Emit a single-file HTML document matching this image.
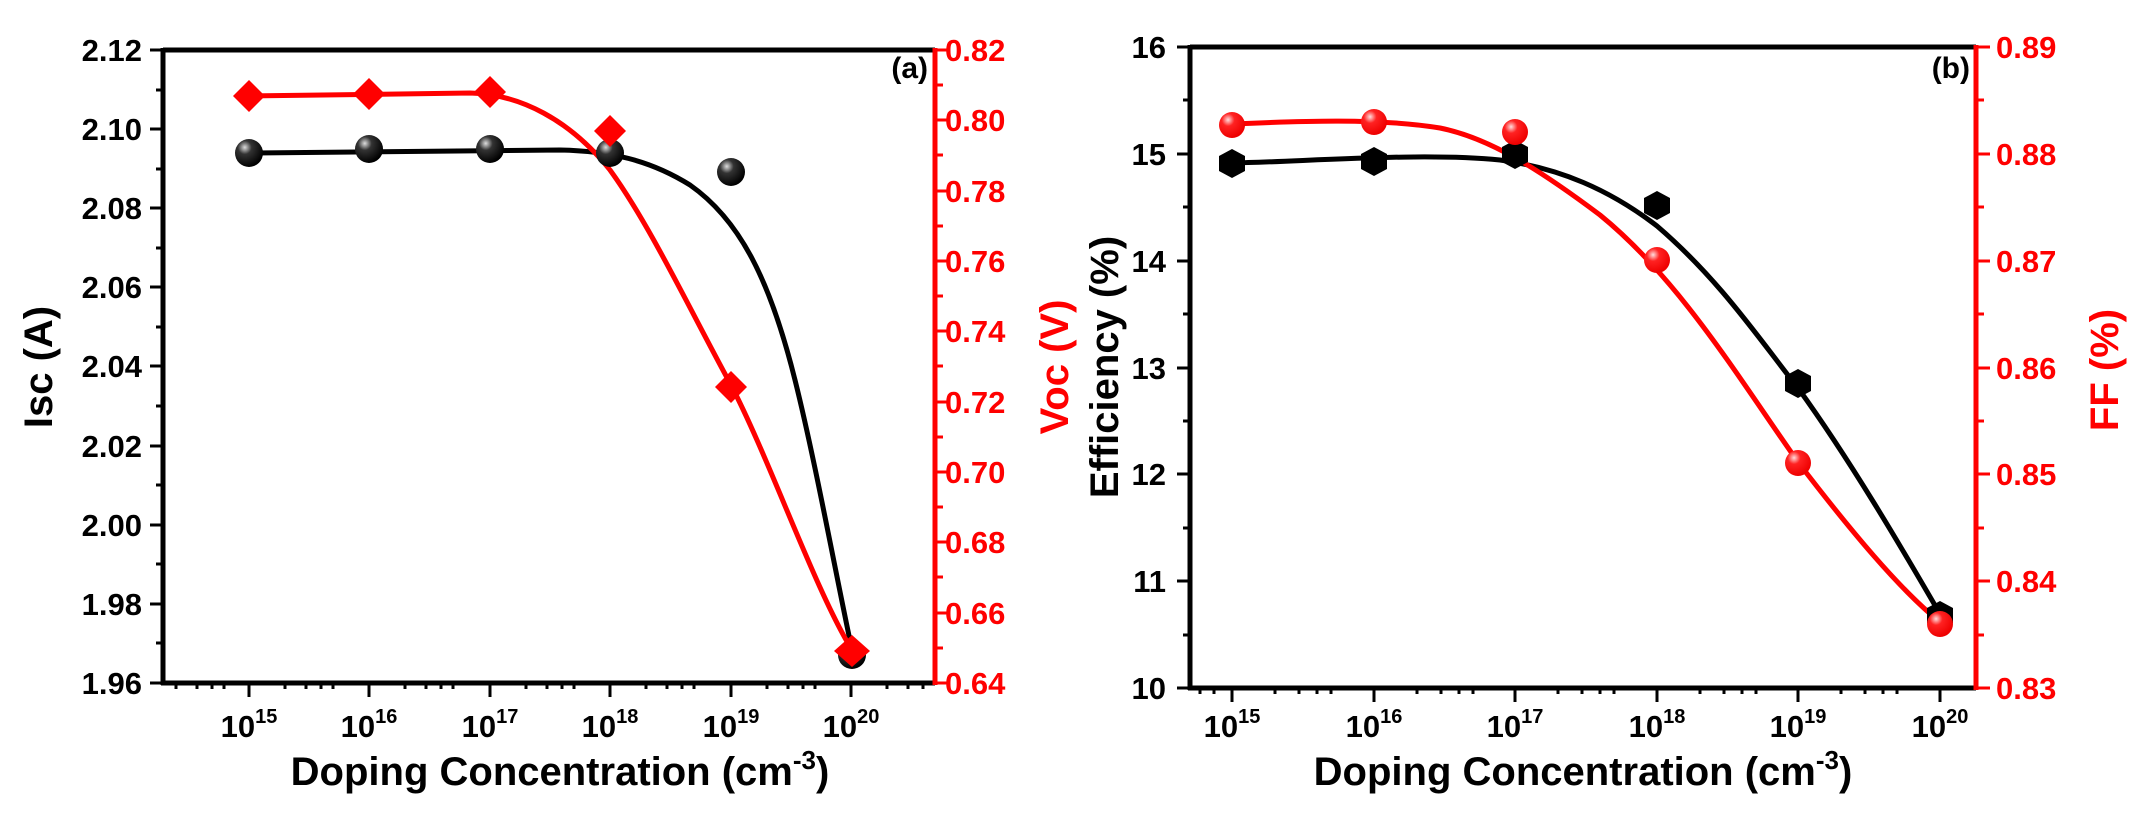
<!DOCTYPE html>
<html><head><meta charset="utf-8"><style>body{margin:0;background:#fff}svg{display:block}text{font-family:"Liberation Sans",sans-serif;font-weight:bold}</style></head><body>
<svg width="2154" height="822" viewBox="0 0 2154 822" xmlns="http://www.w3.org/2000/svg">
<defs>
<radialGradient id="gb" cx="0.35" cy="0.3" r="0.7"><stop offset="0" stop-color="#ddd"/><stop offset="0.35" stop-color="#333"/><stop offset="1" stop-color="#000"/></radialGradient>
<radialGradient id="gr" cx="0.35" cy="0.3" r="0.7"><stop offset="0" stop-color="#fdd"/><stop offset="0.35" stop-color="#f22"/><stop offset="1" stop-color="#e00"/></radialGradient>
</defs>
<!-- Panel A -->
<g stroke="#000" stroke-width="3">
<line x1="150" y1="50" x2="163" y2="50"/><line x1="150" y1="129" x2="163" y2="129"/><line x1="150" y1="208" x2="163" y2="208"/><line x1="150" y1="287" x2="163" y2="287"/><line x1="150" y1="366" x2="163" y2="366"/><line x1="150" y1="446" x2="163" y2="446"/><line x1="150" y1="525" x2="163" y2="525"/><line x1="150" y1="604" x2="163" y2="604"/><line x1="150" y1="683" x2="163" y2="683"/>
<line x1="156" y1="90" x2="163" y2="90"/><line x1="156" y1="169" x2="163" y2="169"/><line x1="156" y1="248" x2="163" y2="248"/><line x1="156" y1="327" x2="163" y2="327"/><line x1="156" y1="406" x2="163" y2="406"/><line x1="156" y1="485" x2="163" y2="485"/><line x1="156" y1="564" x2="163" y2="564"/><line x1="156" y1="643" x2="163" y2="643"/>
<line x1="249" y1="683" x2="249" y2="697"/><line x1="369" y1="683" x2="369" y2="697"/><line x1="490" y1="683" x2="490" y2="697"/><line x1="610" y1="683" x2="610" y2="697"/><line x1="731" y1="683" x2="731" y2="697"/><line x1="851" y1="683" x2="851" y2="697"/>
</g>
<g stroke="#000" stroke-width="3">
<path d="M176,683v6M197,683v6M212,683v6M224,683v6M285,683v6M306,683v6M321,683v6M333,683v6M405,683v6M426,683v6M441,683v6M453,683v6M526,683v6M547,683v6M562,683v6M574,683v6M646,683v6M667,683v6M682,683v6M694,683v6M767,683v6M788,683v6M803,683v6M815,683v6M887,683v6M908,683v6M923,683v6"/>
</g>
<g stroke="#f00" stroke-width="3">
<path d="M935,50h14M935,120h14M935,191h14M935,261h14M935,331h14M935,402h14M935,472h14M935,542h14M935,613h14M935,683h14"/>
<path d="M935,85h8M935,155h8M935,226h8M935,296h8M935,366h8M935,437h8M935,507h8M935,577h8M935,648h8"/>
</g>
<line x1="163" y1="50" x2="935" y2="50" stroke="#000" stroke-width="5"/>
<line x1="163" y1="48" x2="163" y2="685" stroke="#000" stroke-width="5"/>
<line x1="161" y1="683" x2="935" y2="683" stroke="#000" stroke-width="5"/>
<line x1="935" y1="48" x2="935" y2="685" stroke="#f00" stroke-width="5"/>
<path d="M249,153 L560,150 C610,151 650,160 690,185 C740,220 770,280 795,380 C815,460 835,570 852,650" fill="none" stroke="#000" stroke-width="5"/>
<path d="M249,96 L470,93 C520,94 570,120 610,170 C650,225 690,310 731,385 C770,460 815,590 852,650" fill="none" stroke="#f00" stroke-width="5"/>
<g fill="url(#gb)"><circle cx="249" cy="153" r="14"/><circle cx="369" cy="149" r="14"/><circle cx="490" cy="149" r="14"/><circle cx="610" cy="153" r="14"/><circle cx="731" cy="172" r="14"/><circle cx="852" cy="655" r="14"/></g>
<g fill="#f00"><path d="M249,80l16,16l-16,16l-16,-16z"/><path d="M369,78l16,16l-16,16l-16,-16z"/><path d="M490,76l16,16l-16,16l-16,-16z"/><path d="M610,115l16,16l-16,16l-16,-16z"/><path d="M731,371l16,16l-16,16l-16,-16z"/><path d="M852,635l18,16l-18,16l-18,-16z"/></g>
<g font-size="31" text-anchor="end" fill="#000">
<text x="142" y="61">2.12</text><text x="142" y="140">2.10</text><text x="142" y="219">2.08</text><text x="142" y="298">2.06</text><text x="142" y="377">2.04</text><text x="142" y="457">2.02</text><text x="142" y="536">2.00</text><text x="142" y="615">1.98</text><text x="142" y="694">1.96</text>
</g>
<g font-size="31" fill="#f00">
<text x="945" y="61">0.82</text><text x="945" y="131">0.80</text><text x="945" y="202">0.78</text><text x="945" y="272">0.76</text><text x="945" y="342">0.74</text><text x="945" y="413">0.72</text><text x="945" y="483">0.70</text><text x="945" y="553">0.68</text><text x="945" y="624">0.66</text><text x="945" y="694">0.64</text>
</g>
<g font-size="31" text-anchor="middle" fill="#000">
<text x="249" y="737">10<tspan font-size="20" dy="-14">15</tspan></text><text x="369" y="737">10<tspan font-size="20" dy="-14">16</tspan></text><text x="490" y="737">10<tspan font-size="20" dy="-14">17</tspan></text><text x="610" y="737">10<tspan font-size="20" dy="-14">18</tspan></text><text x="731" y="737">10<tspan font-size="20" dy="-14">19</tspan></text><text x="851" y="737">10<tspan font-size="20" dy="-14">20</tspan></text>
</g>
<text x="560" y="785" font-size="40" text-anchor="middle">Doping Concentration (cm<tspan font-size="26" dy="-16">-3</tspan><tspan dy="16">)</tspan></text>
<text transform="translate(52,367) rotate(-90)" font-size="40" text-anchor="middle">Isc (A)</text>
<text transform="translate(1068,367) rotate(-90)" font-size="40" text-anchor="middle" fill="#f00">Voc (V)</text>
<text x="928" y="78" font-size="30" text-anchor="end">(a)</text>
<!-- Panel B -->
<g stroke="#000" stroke-width="3">
<path d="M1177,47h13M1177,154h13M1177,261h13M1177,368h13M1177,474h13M1177,581h13M1177,688h13"/>
<path d="M1183,100h7M1183,207h7M1183,314h7M1183,421h7M1183,528h7M1183,635h7"/>
<path d="M1232,688v14M1374,688v14M1515,688v14M1657,688v14M1798,688v14M1940,688v14"/>
<path d="M1200,688v6M1214,688v6M1275,688v6M1299,688v6M1317,688v6M1331,688v6M1417,688v6M1441,688v6M1459,688v6M1473,688v6M1558,688v6M1582,688v6M1600,688v6M1614,688v6M1700,688v6M1724,688v6M1742,688v6M1756,688v6M1841,688v6M1865,688v6M1883,688v6M1897,688v6"/>
</g>
<g stroke="#f00" stroke-width="3">
<path d="M1976,47h14M1976,154h14M1976,261h14M1976,368h14M1976,474h14M1976,581h14M1976,688h14"/>
<path d="M1976,100h8M1976,207h8M1976,314h8M1976,421h8M1976,528h8M1976,635h8"/>
</g>
<line x1="1190" y1="47" x2="1976" y2="47" stroke="#000" stroke-width="5"/>
<line x1="1190" y1="45" x2="1190" y2="690" stroke="#000" stroke-width="5"/>
<line x1="1188" y1="688" x2="1976" y2="688" stroke="#000" stroke-width="5"/>
<line x1="1976" y1="45" x2="1976" y2="690" stroke="#f00" stroke-width="5"/>
<path d="M1232,163 C1300,162 1420,152 1500,160 C1560,168 1610,190 1657,226 C1720,280 1760,340 1798,388 C1850,460 1900,545 1940,614" fill="none" stroke="#000" stroke-width="5"/>
<path d="M1232,124 C1300,121 1380,118 1440,128 C1490,138 1540,170 1600,215 C1680,280 1740,380 1798,462 C1850,530 1900,590 1940,622" fill="none" stroke="#f00" stroke-width="5"/>
<g fill="#000"><path d="M1232,149l13,7v15l-13,7l-13,-7v-15z"/><path d="M1374,147l13,7v15l-13,7l-13,-7v-15z"/><path d="M1515,140l13,7v15l-13,7l-13,-7v-15z"/><path d="M1657,191l13,7v15l-13,7l-13,-7v-15z"/><path d="M1798,369l13,7v15l-13,7l-13,-7v-15z"/><path d="M1940,601l13,7v15l-13,7l-13,-7v-15z"/></g>
<g fill="url(#gr)"><circle cx="1232" cy="125" r="13"/><circle cx="1374" cy="122" r="13"/><circle cx="1515" cy="132" r="13"/><circle cx="1657" cy="260" r="13"/><circle cx="1798" cy="463" r="13"/><circle cx="1940" cy="624" r="13"/></g>
<g font-size="31" text-anchor="end" fill="#000">
<text x="1166" y="58">16</text><text x="1166" y="165">15</text><text x="1166" y="272">14</text><text x="1166" y="379">13</text><text x="1166" y="485">12</text><text x="1166" y="592">11</text><text x="1166" y="699">10</text>
</g>
<g font-size="31" fill="#f00">
<text x="1996" y="58">0.89</text><text x="1996" y="165">0.88</text><text x="1996" y="272">0.87</text><text x="1996" y="379">0.86</text><text x="1996" y="485">0.85</text><text x="1996" y="592">0.84</text><text x="1996" y="699">0.83</text>
</g>
<g font-size="31" text-anchor="middle" fill="#000">
<text x="1232" y="737">10<tspan font-size="20" dy="-14">15</tspan></text><text x="1374" y="737">10<tspan font-size="20" dy="-14">16</tspan></text><text x="1515" y="737">10<tspan font-size="20" dy="-14">17</tspan></text><text x="1657" y="737">10<tspan font-size="20" dy="-14">18</tspan></text><text x="1798" y="737">10<tspan font-size="20" dy="-14">19</tspan></text><text x="1940" y="737">10<tspan font-size="20" dy="-14">20</tspan></text>
</g>
<text x="1583" y="785" font-size="40" text-anchor="middle">Doping Concentration (cm<tspan font-size="26" dy="-16">-3</tspan><tspan dy="16">)</tspan></text>
<text transform="translate(1118,367) rotate(-90)" font-size="40" text-anchor="middle">Efficiency (%)</text>
<text transform="translate(2118,370) rotate(-90)" font-size="40" text-anchor="middle" fill="#f00">FF (%)</text>
<text x="1970" y="78" font-size="30" text-anchor="end">(b)</text>
</svg>
</body></html>
